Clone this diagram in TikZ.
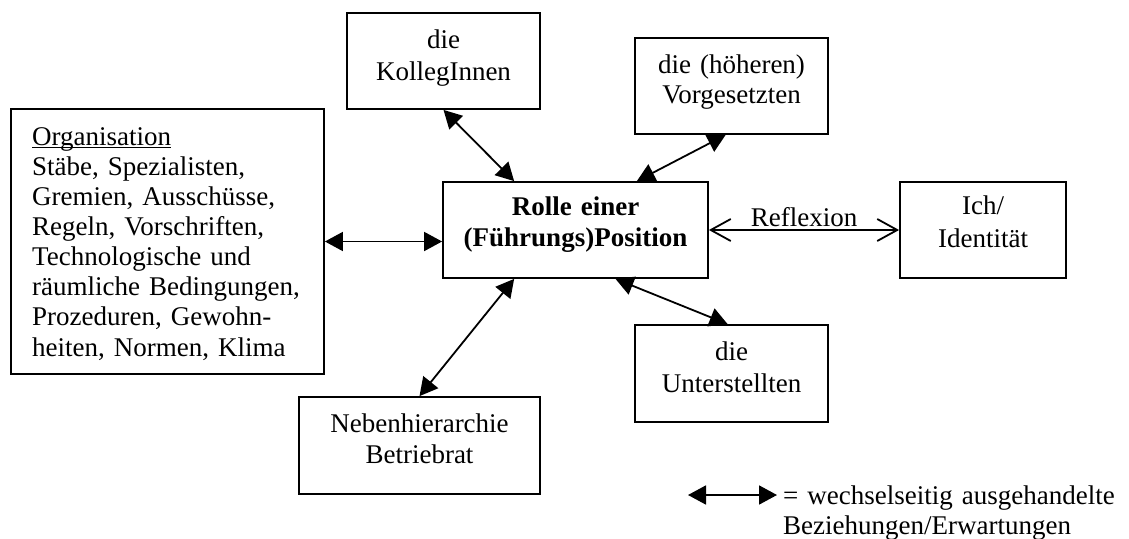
\documentclass[tikz,border=0pt]{standalone}
\usepackage{fontspec}
\setmainfont{Liberation Serif}
\usetikzlibrary{arrows.meta,calc}
\newcommand\myul[1]{\setbox0\hbox{#1}\rlap{\rule[-3pt]{\wd0}{1.5pt}}\box0}
\begin{document}
\begin{tikzpicture}[x=1pt,y=-1pt,
  box/.style={draw, line width=1.8pt, inner sep=0pt},
  lbl/.style={inner sep=0pt, anchor=base, align=center, text width=300pt},
  lblleft/.style={inner sep=0pt, anchor=base west, align=left, text width=380pt},
  rel/.style={line width=1.8pt, {Triangle[length=18pt,width=19pt]}-{Triangle[length=18pt,width=19pt]}},
  refl/.style={line width=1.8pt, {Straight Barb[length=20pt,width=22pt]}-{Straight Barb[length=20pt,width=22pt]}},
  txt/.style={font=\fontsize{27}{31}\selectfont}
]
\useasboundingbox (0,0) rectangle (1129,538);
% boxes
\node[box, minimum width=193pt, minimum height=96pt] (kol) at (443.5,61) {};
\node[box, minimum width=193pt, minimum height=96pt] (vor) at (731.5,86) {};
\node[box, minimum width=313pt, minimum height=265pt] (org) at (167.5,241.5) {};
\node[box, minimum width=265pt, minimum height=96pt] (role) at (575.5,230) {};
\node[box, minimum width=166pt, minimum height=96pt] (ich) at (983,230) {};
\node[box, minimum width=193pt, minimum height=97pt] (unt) at (731.5,373.5) {};
\node[box, minimum width=241pt, minimum height=97pt] (neb) at (419.5,445.5) {};
% texts
\node[lbl, font=\fontsize{27}{32}\selectfont] (kolt) at (443.5,48) {die\\KollegInnen};
\node[lbl, font=\fontsize{27}{30}\selectfont] (vort) at (731.5,73) {die (höheren)\\Vorgesetzten};
\node[lbl, font=\fontsize{27}{31}\selectfont\bfseries] (rolet) at (575.5,215) {Rolle einer\\(Führungs)Position};
\node[lbl, font=\fontsize{27}{33}\selectfont] (icht) at (983,214) {Ich/\\Identität};
\node[lbl, font=\fontsize{27}{32}\selectfont] (untt) at (731.5,360) {die\\Unterstellten};
\node[lbl, font=\fontsize{27}{31}\selectfont] (nebt) at (419.5,432) {Nebenhierarchie\\Betriebrat};
\node[lblleft, font=\fontsize{27}{30.15}\selectfont] (orgt) at (32,145) {\myul{Organisation}\\Stäbe, Spezialisten,\\Gremien, Ausschüsse,\\Regeln, Vorschriften,\\Technologische und\\räumliche Bedingungen,\\Prozeduren, Gewohn-\\heiten, Normen, Klima};
% connector end points on the box borders
\coordinate (kolS) at (kol.south);
\coordinate (roleN1) at ($(role.north west)!0.27!(role.north east)$);
\coordinate (vorS) at ($(vor.south west)!0.47!(vor.south east)$);
\coordinate (roleN2) at ($(role.north west)!0.73!(role.north east)$);
\coordinate (nebN) at (neb.north);
\coordinate (roleS1) at ($(role.south west)!0.27!(role.south east)$);
\coordinate (untN) at ($(unt.north west)!0.48!(unt.north east)$);
\coordinate (roleS2) at ($(role.south west)!0.65!(role.south east)$);
% connectors
\draw[rel] (org.east) -- (org.east -| role.west);
\draw[rel] (kolS) -- (roleN1);
\draw[rel] (vorS) -- (roleN2);
\draw[rel] (nebN) -- (roleS1);
\draw[rel] (untN) -- (roleS2);
\draw[refl] (role.east) -- (ich.west);
\node[txt, inner sep=0pt, anchor=base] (reflt) at (804,226) {Reflexion};
% legend
\coordinate (la) at (688,495);
\coordinate (lb) at (777,495);
\draw[rel] (la) -- (lb);
\node[lblleft, font=\fontsize{27}{30}\selectfont] (legt) at (783,504) {= wechselseitig ausgehandelte\\Beziehungen/Erwartungen};
\end{tikzpicture}
\end{document}
